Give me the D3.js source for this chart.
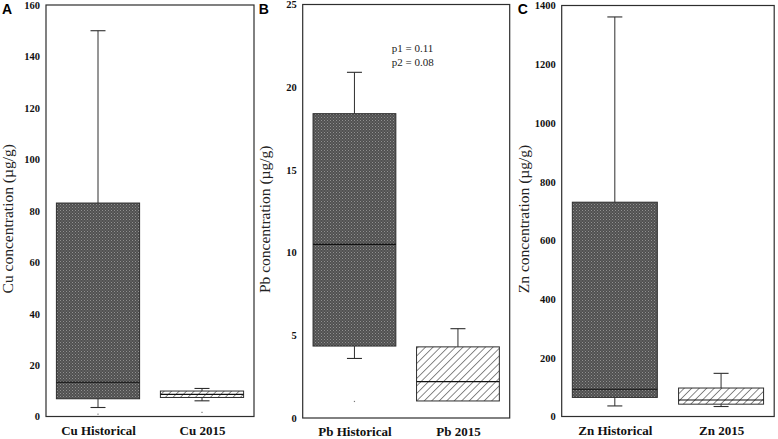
<!DOCTYPE html>
<html>
<head>
<meta charset="utf-8">
<script src="https://cdn.jsdelivr.net/npm/d3@7"></script>
<style>
  html, body { margin: 0; padding: 0; background: #fff; }
  svg { display: block; }
</style>
</head>
<body>
<svg id="chart" width="778" height="439"></svg>
<script>
// ---------- data ----------
const cuCategories = ["Cu Historical", "Cu 2015"];
const cuStats = [ // [min, q1, median, q3, max]
  [3.5, 6.9, 13.3, 83, 150],
  [6.1, 7.4, 8.6, 9.9, 10.9]
];
const cuOutliers = [[0.9], [1.6]];
const cuTicks = [0, 20, 40, 60, 80, 100, 120, 140, 160];

const pbCategories = ["Pb Historical", "Pb 2015"];
const pbStats = [
  [3.6, 4.35, 10.5, 18.4, 20.9],
  [1.03, 1.03, 2.2, 4.3, 5.4]
];
const pbOutliers = [[1.0], []];
const pbTicks = [0, 5, 10, 15, 20, 25];
const pbNotes = ["p1 = 0.11", "p2 = 0.08"];

const znCategories = ["Zn Historical", "Zn 2015"];
const znStats = [
  [36, 65, 93, 730, 1361],
  [34, 42, 56, 97, 147]
];
const znOutliers = [[], []];
const znTicks = [0, 200, 400, 600, 800, 1000, 1200, 1400];

const panelLetters = ["A", "B", "C"];
const yTitles = ["Cu concentration (µg/g)", "Pb concentration (µg/g)", "Zn concentration (µg/g)"];

// ---------- layout ----------
const panels = [
  { x: 46,    y: 5,   w: 208,   h: 411.5, cats: cuCategories, stats: cuStats, outs: cuOutliers, ticks: cuTicks },
  { x: 302.7, y: 4.5, w: 207,   h: 413.5, cats: pbCategories, stats: pbStats, outs: pbOutliers, ticks: pbTicks },
  { x: 561.7, y: 5.5, w: 212.5, h: 411,   cats: znCategories, stats: znStats, outs: znOutliers, ticks: znTicks }
];

const svg = d3.select("#chart");
const defs = svg.append("defs");

// dense dark stipple for historical boxes
const dark = defs.append("pattern").attr("id", "darkfill")
  .attr("patternUnits", "userSpaceOnUse").attr("width", 3).attr("height", 3);
dark.append("rect").attr("width", 3).attr("height", 3).attr("fill", "#505050");
dark.append("rect").attr("x", 0).attr("y", 0).attr("width", 1).attr("height", 1).attr("fill", "#909090");
dark.append("rect").attr("x", 1.5).attr("y", 1.5).attr("width", 1).attr("height", 1).attr("fill", "#808080");

// diagonal hatch for 2015 boxes
const hatch = defs.append("pattern").attr("id", "hatch")
  .attr("patternUnits", "userSpaceOnUse").attr("width", 5.3).attr("height", 5.3)
  .attr("patternTransform", "rotate(45)");
hatch.append("rect").attr("width", 5.3).attr("height", 5.3).attr("fill", "#fff");
hatch.append("line").attr("x1", 0).attr("y1", 0).attr("x2", 0).attr("y2", 5.3)
  .attr("stroke", "#2a2a2a").attr("stroke-width", 1.1);

const serif = "'Liberation Serif', 'Times New Roman', Times, serif";
const stroke = "#2e2e2e";

panels.forEach((p, i) => {
  const g = svg.append("g");
  const y = d3.scaleLinear()
    .domain([0, d3.max(p.ticks)])
    .range([p.y + p.h, p.y]);
  const x = d3.scalePoint()
    .domain(p.cats)
    .range([p.x, p.x + p.w])
    .padding(0.5);
  const boxW = x.step() * 0.8;
  const capW = 15;

  // frame
  g.append("rect")
    .attr("x", p.x).attr("y", p.y).attr("width", p.w).attr("height", p.h)
    .attr("fill", "none").attr("stroke", stroke).attr("stroke-width", 1.2);

  // y axis (labels only)
  const axis = d3.axisLeft(y).tickValues(p.ticks).tickFormat(d3.format("d"))
    .tickSize(0).tickPadding(6);
  const ag = g.append("g").attr("transform", `translate(${p.x},0)`).call(axis);
  ag.select(".domain").remove();
  ag.attr("font-family", null).attr("font-size", null);
  ag.selectAll("text")
    .style("font-family", serif).style("font-size", "10.5px")
    .style("font-weight", "bold").attr("fill", "#111");

  // x axis labels
  const xa = d3.axisBottom(x).tickSize(0).tickPadding(9);
  const xg = g.append("g").attr("transform", `translate(0,${p.y + p.h})`).call(xa);
  xg.select(".domain").remove();
  xg.attr("font-family", null).attr("font-size", null);
  xg.selectAll("text")
    .style("font-family", serif).style("font-size", "13px")
    .style("font-weight", "bold").attr("fill", "#111");

  // y title
  g.append("text")
    .attr("transform", `translate(${p.x - 33},${p.y + p.h / 2 + 8}) rotate(-90)`)
    .attr("text-anchor", "middle")
    .style("font-family", serif).style("font-size", "15.5px").attr("fill", "#222")
    .text(yTitles[i]);

  // panel letter
  g.append("text")
    .attr("x", p.x - 44).attr("y", 14)
    .style("font-family", "'Liberation Sans', Arial, sans-serif")
    .style("font-size", "14px").style("font-weight", "bold").attr("fill", "#000")
    .text(panelLetters[i]);

  // boxes
  p.cats.forEach((c, j) => {
    const [mn, q1, md, q3, mx] = p.stats[j];
    const cx = x(c);
    const bg = g.append("g");
    // whiskers
    [[q3, mx], [q1, mn]].forEach(([a, b]) => {
      if (a === b) return;
      bg.append("line").attr("x1", cx).attr("x2", cx).attr("y1", y(a)).attr("y2", y(b))
        .attr("stroke", stroke).attr("stroke-width", 1);
      bg.append("line").attr("x1", cx - capW / 2).attr("x2", cx + capW / 2)
        .attr("y1", y(b)).attr("y2", y(b))
        .attr("stroke", stroke).attr("stroke-width", 1.1);
    });
    bg.append("rect")
      .attr("x", cx - boxW / 2).attr("width", boxW)
      .attr("y", y(q3)).attr("height", y(q1) - y(q3))
      .attr("fill", j === 0 ? "url(#darkfill)" : "url(#hatch)")
      .attr("stroke", stroke).attr("stroke-width", 1);
    bg.append("line")
      .attr("x1", cx - boxW / 2).attr("x2", cx + boxW / 2)
      .attr("y1", y(md)).attr("y2", y(md))
      .attr("stroke", "#111").attr("stroke-width", 1.1);
    p.outs[j].forEach(v => {
      bg.append("rect").attr("x", cx - 0.6).attr("y", y(v) - 0.6)
        .attr("width", 1.2).attr("height", 1.2).attr("fill", "#777");
    });
  });

  if (i === 1) {
    pbNotes.forEach((t, k) => {
      g.append("text")
        .attr("x", p.x + 89).attr("y", 52 + k * 14)
        .style("font-family", serif).style("font-size", "11px").attr("fill", "#222")
        .text(t);
    });
  }
});
</script>
</body>
</html>
